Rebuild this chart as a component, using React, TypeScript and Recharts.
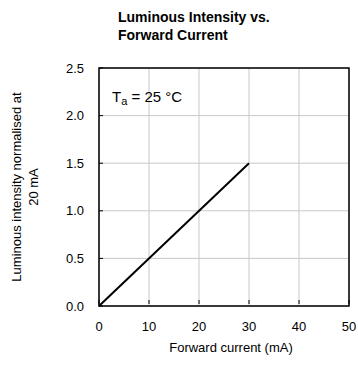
import React from "react";
import { LineChart, Line, XAxis, YAxis, CartesianGrid, ReferenceArea } from "recharts";

const currents = [0, 30];
const intensity = [0, 1.5];
const xTicks = [0, 10, 20, 30, 40, 50];
const yTicks = [0, 0.5, 1.0, 1.5, 2.0, 2.5];
const titleLines = ["Luminous Intensity vs.", "Forward Current"];
const xTitle = "Forward current (mA)";
const yTitleLines = ["Luminous intensity normalised at", "20 mA"];

const data = currents.map((c, i) => ({ current: c, intensity: intensity[i] }));

const FONT = "'Liberation Sans', Arial, sans-serif";
const FS = 13;
const TM = 15;

const YTick = (props: any) => {
  const { x, y, payload } = props;
  return (
    <g>
      <line x1={x + TM} x2={x + TM + 4} y1={y} y2={y} stroke="#000" />
      <text x={x} y={y} dy={4.5} textAnchor="end" fontSize={FS} fontFamily={FONT} fill="#000">
        {Number(payload.value).toFixed(1)}
      </text>
    </g>
  );
};

const XTick = (props: any) => {
  const { x, y, payload } = props;
  return (
    <g>
      <line x1={x} x2={x} y1={y - TM - 2} y2={y - TM - 6} stroke="#000" />
      <text x={x} y={y} dy={10} textAnchor="middle" fontSize={FS} fontFamily={FONT} fill="#000">
        {payload.value}
      </text>
    </g>
  );
};

const YLabel = (props: any) => {
  const vb = props.viewBox || { x: 0, y: 0, width: 0, height: 0 };
  const cy = vb.y + vb.height / 2;
  return (
    <g>
      {yTitleLines.map((t, i) => {
        const cx = vb.x + 21 + i * 17;
        return (
          <text
            key={i}
            x={cx}
            y={cy}
            textAnchor="middle"
            transform={`rotate(-90 ${cx} ${cy})`}
            fontSize={FS}
            fontFamily={FONT}
            fill="#000"
          >
            {t}
          </text>
        );
      })}
    </g>
  );
};

const XLabel = (props: any) => {
  const vb = props.viewBox || { x: 0, y: 0, width: 0, height: 0 };
  return (
    <text x={vb.x + vb.width / 2 + 7} y={vb.y + 46} textAnchor="middle" fontSize={FS} fontFamily={FONT} fill="#000">
      {xTitle}
    </text>
  );
};

const Annot = (props: any) => {
  const vb = props.viewBox || { x: 0, y: 0, width: 0, height: 0 };
  return (
    <text x={vb.x + 13} y={vb.y + 34} fontSize={15} fontFamily={FONT} fill="#000">
      T<tspan fontSize={11} dy={3}>a</tspan>
      <tspan dy={-3}> = 25 °C</tspan>
    </text>
  );
};

export default function App() {
  return (
    <div style={{ position: "absolute", left: 0, top: 0, width: 358, height: 366, background: "#fff" }}>
      <div
        style={{
          position: "absolute",
          left: 118,
          top: 8,
          fontFamily: FONT,
          fontWeight: "bold",
          fontSize: 14,
          lineHeight: "18px",
          color: "#000",
          whiteSpace: "nowrap",
        }}
      >
        {titleLines.map((t, i) => (
          <div key={i}>{t}</div>
        ))}
      </div>
      <LineChart width={358} height={366} data={data} margin={{ top: 68, right: 9, bottom: 0, left: 0 }}>
        <CartesianGrid stroke="#c8c8c8" strokeWidth={1} />
        <XAxis
          dataKey="current"
          type="number"
          domain={[0, 50]}
          ticks={xTicks}
          height={60}
          axisLine={false}
          tickLine={false}
          tickSize={0}
          tickMargin={TM}
          tick={<XTick />}
          interval={0}
          label={<XLabel />}
        />
        <YAxis
          type="number"
          domain={[0, 2.5]}
          ticks={yTicks}
          width={99}
          axisLine={false}
          tickLine={false}
          tickSize={0}
          tickMargin={TM}
          tick={<YTick />}
          interval={0}
          label={<YLabel />}
        />
        <ReferenceArea
          x1={0}
          x2={50}
          y1={0}
          y2={2.5}
          fill="none"
          fillOpacity={0}
          stroke="#000"
          strokeWidth={1.5}
          label={<Annot />}
          ifOverflow="visible"
        />
        <Line
          dataKey="intensity"
          stroke="#000"
          strokeWidth={2}
          dot={false}
          isAnimationActive={false}
          type="linear"
        />
      </LineChart>
    </div>
  );
}
